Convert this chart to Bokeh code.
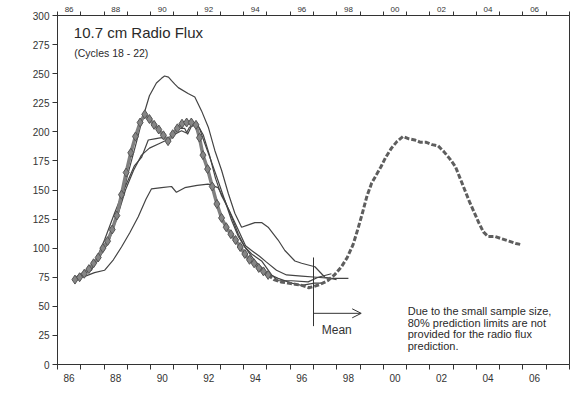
from math import pi
from bokeh.plotting import figure
from bokeh.models import FixedTicker, LinearAxis, Label, Arrow, OpenHead
from bokeh.embed import file_html
from bokeh.resources import INLINE

# ---------------- data ----------------
year_ticks = list(range(1986, 2009))
label_years = [1986.5, 1988.5, 1990.5, 1992.5, 1994.5, 1996.5, 1998.5, 2000.5, 2002.5, 2004.5, 2006.5]
tick_labels = ["86", "88", "90", "92", "94", "96", "98", "00", "02", "04", "06"]
flux_ticks = [0, 25, 50, 75, 100, 125, 150, 175, 200, 225, 250, 275, 300]

# observed cycle 22 (diamonds)
c22_years = [1986.75, 1986.95, 1987.15, 1987.35, 1987.55, 1987.75, 1987.95, 1988.15, 1988.35, 1988.55,
             1988.75, 1988.95, 1989.15, 1989.35, 1989.55, 1989.75, 1989.95, 1990.15, 1990.35, 1990.55,
             1990.75, 1990.95, 1991.15, 1991.35, 1991.55, 1991.75, 1991.95, 1992.10, 1992.25, 1992.45,
             1992.65, 1992.85, 1993.05, 1993.25, 1993.45, 1993.65, 1993.85, 1994.05, 1994.25, 1994.45,
             1994.65, 1994.85, 1995.05]
c22_flux = [73, 75, 78, 82, 87, 92, 100, 106, 116, 128,
            146, 165, 182, 196, 208, 215, 211, 206, 202, 197,
            192, 198, 203, 207, 208, 208, 206, 195, 180, 168,
            153, 138, 126, 118, 112, 107, 101, 95, 90, 87,
            83, 80, 77]

# dashed continuation and predicted cycle 23
pred_years = [1995.05, 1995.3, 1995.6, 1995.9, 1996.2, 1996.5, 1996.8, 1997.0, 1997.3, 1997.6,
              1997.9, 1998.2, 1998.45, 1998.7, 1998.9, 1999.1, 1999.3, 1999.5, 1999.7, 1999.9,
              2000.1, 2000.35, 2000.6, 2000.85, 2001.1, 2001.35, 2001.6, 2001.85, 2002.1, 2002.35,
              2002.6, 2002.85, 2003.1, 2003.3, 2003.5, 2003.7, 2003.9, 2004.1, 2004.3, 2004.5,
              2004.8, 2005.1, 2005.4, 2005.7, 2005.95]
pred_flux = [77, 73, 71, 70, 69, 68, 66, 67, 69, 72,
             77, 84, 92, 103, 116, 130, 145, 156, 163, 170,
             178, 186, 192, 196, 194, 193, 191, 191, 189, 188,
             183, 177, 170, 160, 150, 140, 131, 122, 114, 110,
             110, 108, 106, 104, 103]

# earlier cycles (thin lines)
ca_years = [1986.82, 1987.68, 1988.23, 1988.66, 1989.0, 1989.35, 1989.65, 1989.95, 1990.25, 1990.47,
            1990.6, 1990.77, 1990.9, 1991.04, 1991.19, 1991.61, 1991.9, 1992.19, 1992.48, 1992.76,
            1993.05, 1993.34, 1993.62, 1993.91, 1994.2, 1994.48, 1994.77, 1995.05, 1995.48, 1995.77,
            1996.2, 1996.49, 1997.06, 1997.49, 1997.99]
ca_flux = [75, 88, 107, 134, 162, 188, 211, 231, 242, 246,
           248, 247, 244, 241, 238, 233, 230, 218, 204, 184,
           167, 147, 130, 118, 120, 122, 122, 118, 107, 98,
           89, 87, 84, 75, 73]

cb_years = [1986.77, 1987.55, 1988.1, 1988.54, 1988.92, 1989.27, 1989.61, 1989.95, 1990.38, 1990.81,
            1991.24, 1991.46, 1991.59, 1991.76, 1992.02, 1992.27, 1992.53, 1992.79, 1993.05, 1993.39,
            1993.74, 1994.08, 1994.34, 1994.68, 1994.98, 1995.41, 1995.84, 1996.49, 1997.13, 1997.77,
            1998.5]
cb_flux = [75, 84, 102, 125, 150, 167, 180, 186, 190, 194,
           203, 203, 198, 205, 206, 197, 180, 160, 145, 132,
           117, 102, 98, 93, 88, 81, 77, 76, 75, 74,
           74]

cc_years = [1986.77, 1987.46, 1988.02, 1988.45, 1988.89, 1989.31, 1989.61, 1989.9, 1990.17, 1990.47,
            1990.73, 1991.04, 1991.33, 1991.54, 1991.67, 1991.9, 1992.1, 1992.31, 1992.62, 1992.9,
            1993.19, 1993.48, 1993.77, 1994.05, 1994.34, 1994.77, 1995.2, 1995.48, 1996.06, 1996.77,
            1997.2, 1997.77]
cc_flux = [75, 81, 107, 130, 152, 171, 178, 193, 194, 195,
           193, 198, 201, 199, 204, 206, 203, 191, 174, 158,
           141, 124, 110, 101, 95, 89, 77, 72, 72, 71,
           75, 78]

cd_years = [1986.75, 1987.2, 1987.59, 1988.02, 1988.4, 1988.75, 1989.1, 1989.47, 1989.8, 1990.04,
            1990.47, 1990.9, 1991.11, 1991.47, 1992.0, 1992.47, 1992.9, 1993.19, 1993.48, 1993.77,
            1994.05, 1994.48, 1995.05, 1995.48, 1996.06, 1996.49, 1997.04, 1997.4]
cd_flux = [73, 76, 79, 81, 90, 101, 113, 127, 142, 151,
           152, 153, 148, 152, 154, 155, 152, 141, 127, 112,
           101, 89, 78, 74, 70, 68, 70, 70]

# annotation anchors (data units)
mean_year = 1997.0
mean_top, mean_bottom = 92, 33
arrow_end_year, arrow_flux = 1999.05, 44
note_lines = ["Due  to the small sample size,",
              "80% prediction limits are not",
              "provided for the radio flux",
              "prediction."]

# ---------------- figure ----------------
FONT = "Liberation Sans"
INK = "#333333"

p = figure(width=576, height=397, x_range=(1986.0, 2008.0), y_range=(0, 300),
           output_backend="svg", toolbar_location=None,
           x_axis_location=None, y_axis_location=None,
           min_border_left=57, min_border_right=7, min_border_top=15, min_border_bottom=33)
p.grid.visible = False
p.outline_line_color = INK
p.outline_line_width = 1
p.background_fill_color = "white"
p.border_fill_color = "white"

overrides = dict(zip(label_years, tick_labels))

xb = LinearAxis(ticker=FixedTicker(ticks=label_years, minor_ticks=year_ticks),
                major_label_overrides=overrides,
                major_tick_out=0, major_tick_in=0, minor_tick_out=5, minor_tick_in=0,
                major_label_standoff=4, major_label_text_font=FONT,
                major_label_text_font_size="10px", major_label_text_color=INK,
                axis_line_color=INK, minor_tick_line_color=INK)
p.add_layout(xb, "below")

xt = LinearAxis(ticker=FixedTicker(ticks=label_years, minor_ticks=year_ticks),
                major_label_overrides=overrides,
                major_tick_out=0, major_tick_in=0, minor_tick_out=4, minor_tick_in=0,
                major_label_standoff=0, major_label_text_font=FONT,
                major_label_text_font_size="8px", major_label_text_color=INK,
                axis_line_color=INK, minor_tick_line_color=INK)
p.add_layout(xt, "above")

yl = LinearAxis(ticker=FixedTicker(ticks=flux_ticks),
                major_tick_out=5, major_tick_in=0, major_label_standoff=3,
                major_label_text_font=FONT, major_label_text_font_size="10px",
                major_label_text_color=INK, axis_line_color=INK, major_tick_line_color=INK)
p.add_layout(yl, "left")

# thin curves
for xs, ys in [(ca_years, ca_flux), (cb_years, cb_flux), (cc_years, cc_flux), (cd_years, cd_flux)]:
    p.line(xs, ys, line_color="#444444", line_width=1.2)

# dashed prediction
p.line(pred_years, pred_flux, line_color="#5e5e5e", line_width=3, line_dash="5 2")

# diamond curve
p.line(c22_years, c22_flux, line_color="#808080", line_width=3.5)
p.scatter(c22_years, c22_flux, marker="diamond", size=9,
          fill_color="#858585", line_color="#555555", line_width=1)

# Mean marker
p.line([mean_year, mean_year], [mean_top, mean_bottom], line_color=INK, line_width=1)
p.add_layout(Arrow(x_start=mean_year, y_start=arrow_flux, x_end=arrow_end_year, y_end=arrow_flux,
                   line_color=INK, line_width=1,
                   end=OpenHead(size=9, line_color=INK, line_width=1)))
p.add_layout(Label(x=1998.0, y=30, text="Mean", text_font=FONT, text_font_size="12px",
                   text_color=INK, text_align="center", text_baseline="middle"))

# title texts
p.add_layout(Label(x=1986.7, y=285, text="10.7 cm Radio Flux", text_font=FONT,
                   text_font_size="15px", text_color="#2a2a2a", text_baseline="middle"))
p.add_layout(Label(x=1986.72, y=268, text="(Cycles 18 - 22)", text_font=FONT,
                   text_font_size="10.5px", text_color="#2a2a2a", text_baseline="middle"))

# note
note_y = [46, 36, 26, 16]
for t, yy in zip(note_lines, note_y):
    p.add_layout(Label(x=2001.05, y=yy, text=t, text_font=FONT, text_font_size="11px",
                       text_color="#2a2a2a", text_baseline="middle"))

# axis titles
p.add_layout(Label(x=1984.28, y=175, text="Smoothed 10.7cm radio flux", angle=pi / 2,
                   text_font=FONT, text_font_size="13px", text_color=INK,
                   text_align="center", text_baseline="middle"))
p.add_layout(Label(x=1996.7, y=-23, text="YEAR", text_font=FONT, text_font_size="10px",
                   text_color=INK, text_align="center", text_baseline="middle"))

open("out.html", "w").write(file_html(p, INLINE))
